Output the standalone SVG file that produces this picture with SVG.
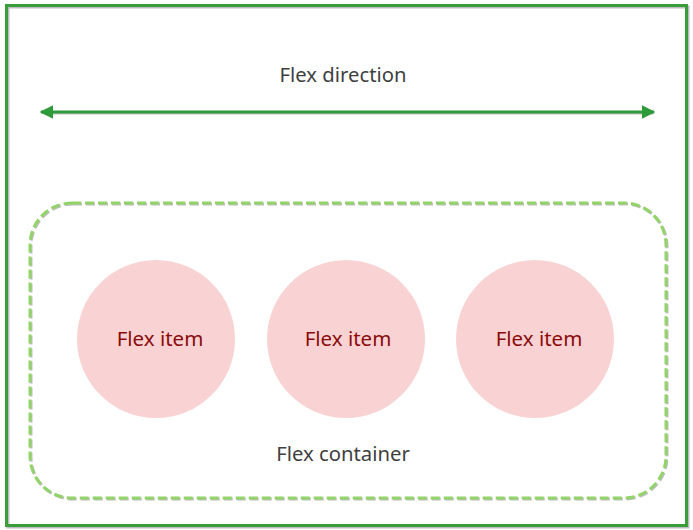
<svg xmlns="http://www.w3.org/2000/svg" width="693" height="530" viewBox="0 0 693 530">
<style>
.lbl{font-family:"Noto Sans","Open Sans","Liberation Sans",sans-serif;font-size:20.3px;fill:#3f3f3f;text-anchor:middle}
.item{font-family:"Noto Sans","Open Sans","Liberation Sans",sans-serif;font-size:20.5px;fill:#8b0a0a;text-anchor:middle}
.circ{fill:#f9d3d4}
.shadow{stroke:#bdbdbd;fill:none}
</style>
<defs>
<marker id="ah" viewBox="0 0 10 10" refX="9" refY="5" markerWidth="4.5" markerHeight="4.5" orient="auto-start-reverse" markerUnits="strokeWidth">
<path d="M0,0 L10,5 L0,10 z" fill="#2f9a3a"/>
</marker>
</defs>
<rect width="693" height="530" fill="#ffffff"/>
<g id="outer">
<rect x="8" y="7" width="680" height="520" class="shadow" stroke-width="3"/>
<rect x="6.5" y="5.5" width="680" height="520" fill="none" stroke="#3a9c3a" stroke-width="3"/>
</g>
<g id="container">
<rect x="31" y="204" width="636" height="295" rx="42" ry="42" class="shadow" stroke-width="3" stroke-dasharray="9,4"/>
<rect x="30" y="203" width="636" height="295" rx="42" ry="42" fill="none" stroke="#92d468" stroke-width="3" stroke-dasharray="9,4"/>
<text class="lbl" x="343" y="461">Flex container</text>
</g>
<g id="item1">
<circle class="circ" cx="156" cy="339" r="79"/>
<text class="item" x="160" y="346">Flex item</text>
</g>
<g id="item2">
<circle class="circ" cx="346" cy="339" r="79"/>
<text class="item" x="348" y="346">Flex item</text>
</g>
<g id="item3">
<circle class="circ" cx="535" cy="339" r="79"/>
<text class="item" x="539" y="346">Flex item</text>
</g>
<g id="connectors">
<line x1="44" y1="113" x2="653" y2="113" stroke="#c0c0c0" stroke-width="3"/>
<line x1="41" y1="112" x2="654" y2="112" stroke="#2f9a3a" stroke-width="3" marker-start="url(#ah)" marker-end="url(#ah)"/>
</g>
<g id="direction">
<text class="lbl" x="343" y="82">Flex direction</text>
</g>
</svg>
